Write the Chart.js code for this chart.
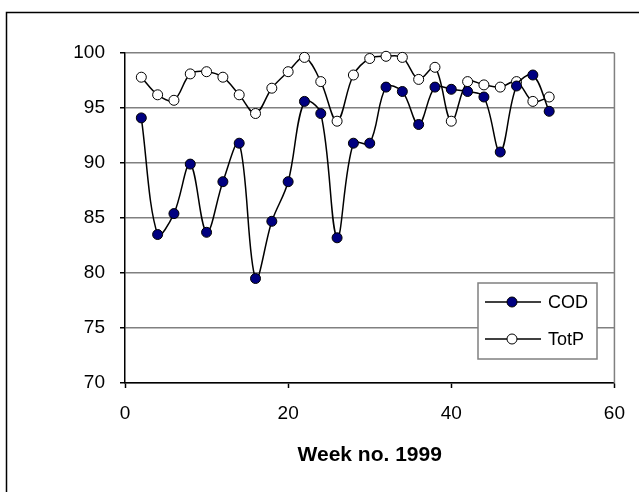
<!DOCTYPE html>
<html>
<head>
<meta charset="utf-8">
<script src="https://cdn.jsdelivr.net/npm/chart.js@4"></script>
<style>
  html, body { margin: 0; padding: 0; background: #fff; }
  #wrap { width: 639px; height: 492px; }
</style>
</head>
<body>
<div id="wrap"><canvas id="myChart" width="639" height="492"></canvas></div>
<script>
// values
var weeks = [2, 4, 6, 8, 10, 12, 14, 16, 18, 20, 22, 24, 26, 28, 30, 32, 34, 36, 38, 40, 42, 44, 46, 48, 50, 52];
var cod = [94.1, 83.5, 85.4, 89.9, 83.7, 88.3, 91.8, 79.5, 84.7, 88.3, 95.6, 94.5, 83.2, 91.8, 91.8, 96.9, 96.5, 93.5, 96.9, 96.7, 96.5, 96.0, 91.0, 97.0, 98.0, 94.7];
var totp = [97.8, 96.2, 95.7, 98.1, 98.3, 97.8, 96.2, 94.5, 96.8, 98.3, 99.6, 97.4, 93.8, 98.0, 99.5, 99.7, 99.6, 97.6, 98.7, 93.8, 97.4, 97.1, 96.9, 97.4, 95.6, 96.0];
var seriesNames = ['COD', 'TotP'];
var xTitle = 'Week no. 1999';

var FONT = "'Liberation Sans', Arial, sans-serif";

function points(ys) {
  return weeks.map(function(w, i) { return {x: w, y: ys[i]}; });
}

// frame, grey right edge of the plot, legend box inside the plot
var extras = {
  id: 'extras',
  afterDatasetsDraw: function(chart) {
    var ctx = chart.ctx;
    var a = chart.chartArea;
    ctx.save();
    ctx.strokeStyle = '#808080';
    ctx.lineWidth = 1.5;
    ctx.beginPath();
    ctx.moveTo(a.right, a.top);
    ctx.lineTo(a.right, a.bottom);
    ctx.stroke();

    // legend
    var bx = 478, by = 283, bw = 119, bh = 76;
    ctx.fillStyle = '#fff';
    ctx.fillRect(bx, by, bw, bh);
    ctx.strokeStyle = '#808080';
    ctx.lineWidth = 1.5;
    ctx.strokeRect(bx, by, bw, bh);
    chart.data.datasets.forEach(function(ds, i) {
      var y = by + 19 + i * 37;
      ctx.strokeStyle = '#000';
      ctx.lineWidth = 1.5;
      ctx.beginPath();
      ctx.moveTo(bx + 7, y);
      ctx.lineTo(bx + 63, y);
      ctx.stroke();
      ctx.beginPath();
      ctx.arc(bx + 34, y, 5, 0, Math.PI * 2);
      ctx.fillStyle = ds.pointBackgroundColor;
      ctx.fill();
      ctx.lineWidth = 1;
      ctx.stroke();
      ctx.fillStyle = '#000';
      ctx.font = '18px ' + FONT;
      ctx.textBaseline = 'middle';
      ctx.textAlign = 'left';
      ctx.fillText(ds.label, bx + 70, y + 1);
    });

    // outer frame (cropped at right and bottom)
    ctx.strokeStyle = '#000';
    ctx.lineWidth = 1.5;
    ctx.strokeRect(6.5, 12.5, 700, 600);
    ctx.restore();
  }
};

var ctx = document.getElementById('myChart').getContext('2d');
var myChart = new Chart(ctx, {
  type: 'line',
  data: {
    datasets: [{
      label: seriesNames[0],
      data: points(cod),
      borderColor: '#000',
      borderWidth: 1.5,
      pointRadius: 5,
      pointBorderWidth: 1,
      pointBorderColor: '#000',
      pointBackgroundColor: '#000080',
      tension: 0.35,
      clip: false
    }, {
      label: seriesNames[1],
      data: points(totp),
      borderColor: '#000',
      borderWidth: 1.5,
      pointRadius: 5,
      pointBorderWidth: 1,
      pointBorderColor: '#000',
      pointBackgroundColor: '#fff',
      tension: 0.35,
      clip: false
    }]
  },
  options: {
    responsive: false,
    animation: false,
    layout: { padding: { top: 53, right: 19, left: 0, bottom: 0 } },
    plugins: {
      legend: { display: false },
      tooltip: { enabled: false }
    },
    scales: {
      x: {
        type: 'linear',
        min: 0,
        max: 60,
        ticks: { stepSize: 20, color: '#000', padding: 14, font: { family: FONT, size: 19 } },
        grid: { drawOnChartArea: false, drawTicks: true, tickLength: 5, tickColor: '#000', tickWidth: 1.5 },
        border: { color: '#000', width: 1.5 },
        title: {
          display: true,
          text: xTitle,
          color: '#000',
          font: { family: FONT, size: 21, weight: 'bold' },
          padding: { top: 0, bottom: 24 }
        },
        afterFit: function(scale) { scale.height = 109; }
      },
      y: {
        min: 70,
        max: 100,
        ticks: { stepSize: 5, color: '#000', padding: 15, font: { family: FONT, size: 19 } },
        grid: { color: '#808080', lineWidth: 1.5, tickLength: 5, tickColor: '#000', tickWidth: 1.5 },
        border: { color: '#000', width: 1.5 },
        afterFit: function(scale) { scale.width = 125; }
      }
    }
  },
  plugins: [extras]
});
</script>
</body>
</html>
